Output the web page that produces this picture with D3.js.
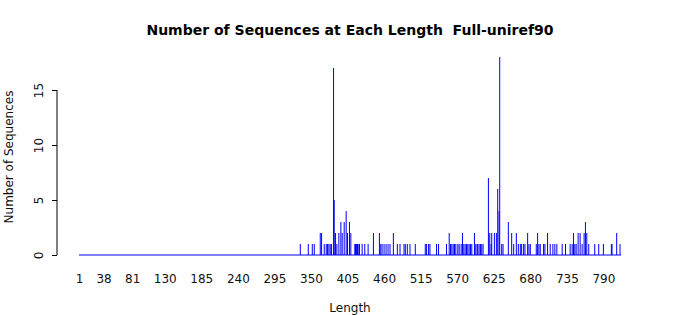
<!DOCTYPE html>
<html>
<head>
<meta charset="utf-8">
<script src="https://cdn.jsdelivr.net/npm/d3@7"></script>
<style>
  body { margin: 0; background: #fff; }
  text { font-family: "DejaVu Sans", sans-serif; white-space: pre; }
</style>
</head>
<body>
<div id="chart"></div>
<script>
// lengths that have at least one sequence, and how many
var lengths = [334, 346, 352, 355, 364, 366, 370, 373, 375, 377, 379, 381, 384, 385, 387, 389, 392, 395, 397, 400,
  403, 405, 408, 410, 416, 417, 418, 419, 420, 421, 423, 427, 431, 436, 444, 453, 455, 457, 460, 463,
  466, 469, 474, 480, 484, 490, 492, 495, 499, 507, 522, 524, 527, 529, 539, 542, 554, 558, 560, 562,
  564, 566, 568, 571, 573, 576, 578, 580, 582, 584, 586, 588, 590, 592, 596, 598, 600, 601, 603, 605,
  607, 609, 617, 619, 621, 622, 626, 629, 631, 633, 634, 637, 639, 647, 652, 655, 659, 662, 665, 667,
  670, 672, 676, 678, 680, 689, 691, 693, 695, 700, 702, 706, 710, 714, 717, 720, 728, 733, 740, 743,
  745, 747, 749, 752, 755, 758, 761, 763, 765, 768, 777, 783, 790, 802, 803, 810, 815];
var counts = [1, 1, 1, 1, 2, 2, 1, 1, 1, 1, 1, 1, 17, 5, 2, 1, 2, 3, 2, 3,
  4, 2, 3, 2, 1, 1, 1, 1, 1, 1, 1, 1, 1, 1, 2, 2, 1, 1, 1, 1,
  1, 1, 2, 1, 1, 1, 1, 1, 1, 1, 1, 1, 1, 1, 1, 1, 1, 2, 1, 1,
  1, 1, 1, 1, 1, 1, 2, 1, 1, 1, 1, 1, 1, 1, 2, 1, 1, 1, 1, 1,
  1, 1, 7, 2, 1, 2, 2, 2, 6, 4, 18, 1, 1, 3, 2, 1, 2, 1, 1, 1,
  1, 1, 2, 1, 1, 1, 2, 1, 1, 1, 1, 2, 1, 1, 1, 1, 1, 1, 1, 1,
  2, 1, 1, 2, 2, 1, 2, 3, 2, 1, 1, 1, 1, 1, 1, 2, 1];
var minLength = 1, maxLength = 815;
var xTickLabels = [1, 38, 81, 130, 185, 240, 295, 350, 405, 460, 515, 570, 625, 680, 735, 790];
var yTicks = [0, 5, 10, 15];

var width = 700, height = 315;

var svg = d3.select("#chart").append("svg")
    .attr("width", width)
    .attr("height", height);

var x = d3.scaleLinear()
    .domain([minLength, maxLength])
    .range([79, 620]);

var y = d3.scaleLinear()
    .domain([0, 15])
    .range([255, 90]);

var data = lengths.map(function(l, i) { return {len: l, n: counts[i]}; });

// zero-count bars show up as a flat blue line
svg.append("line")
    .attr("x1", x(minLength)).attr("x2", x(maxLength) + 1)
    .attr("y1", y(0)).attr("y2", y(0))
    .attr("stroke", "#0000ff")
    .attr("stroke-width", 1);

svg.selectAll(".bar")
    .data(data)
    .enter().append("rect")
    .attr("class", "bar")
    .attr("x", function(d) { return x(d.len) - 0.5; })
    .attr("width", 1)
    .attr("y", function(d) { return y(d.n); })
    .attr("height", function(d) { return y(0) - y(d.n); })
    .attr("fill", "#0000ff");

// y axis (offset spine)
var yAxis = svg.append("g")
    .attr("transform", "translate(57,0)")
    .call(d3.axisLeft(y).tickValues(yTicks).tickSize(5).tickPadding(0).tickFormat(d3.format("d")));
yAxis.select(".domain").attr("stroke", "#000").attr("d", "M0," + y(15) + "V" + y(0));
yAxis.selectAll(".tick line").attr("stroke", "#000");
yAxis.selectAll(".tick text")
    .attr("x", 0)
    .attr("text-anchor", "middle")
    .attr("transform", "translate(-18,0) rotate(-90)")
    .attr("dy", "0.35em")
    .attr("font-size", 12)
    .attr("font-family", "DejaVu Sans")
    .attr("fill", "#111");

// x tick labels only, no axis line
var xAxis = svg.append("g")
    .attr("transform", "translate(0,274)")
    .call(d3.axisBottom(x).tickValues(xTickLabels).tickSize(0).tickPadding(0));
xAxis.select(".domain").remove();
xAxis.selectAll(".tick text")
    .attr("dy", "0.71em")
    .attr("font-size", 12)
    .attr("font-family", "DejaVu Sans")
    .attr("fill", "#111");

svg.append("text")
    .attr("x", 350).attr("y", 35)
    .attr("text-anchor", "middle")
    .attr("font-size", 14)
    .attr("font-weight", "bold")
    .text("Number of Sequences at Each Length  Full-uniref90");

svg.append("text")
    .attr("x", 350).attr("y", 312)
    .attr("text-anchor", "middle")
    .attr("font-size", 12)
    .attr("fill", "#111")
    .text("Length");

svg.append("text")
    .attr("transform", "translate(13,157) rotate(-90)")
    .attr("text-anchor", "middle")
    .attr("font-size", 12)
    .attr("fill", "#111")
    .text("Number of Sequences");
</script>
</body>
</html>
